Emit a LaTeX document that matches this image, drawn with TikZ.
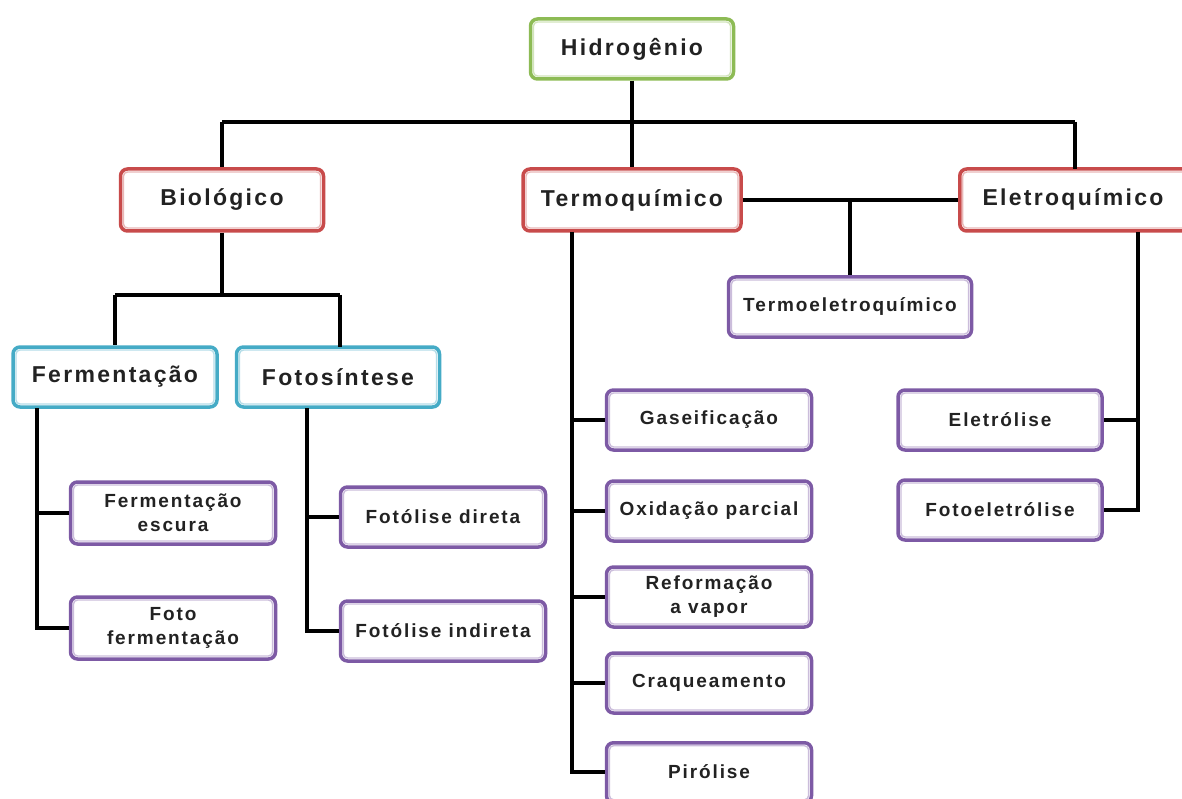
\documentclass[tikz,border=0pt]{standalone}
\usepackage{fontspec}
\setmainfont{Liberation Sans}[LetterSpace=10]
\definecolor{cgreen}{HTML}{8DBB55}
\definecolor{cred}{HTML}{C84B4B}
\definecolor{cblue}{HTML}{45ABC6}
\definecolor{cpurple}{HTML}{7D5AA5}
\definecolor{ctext}{HTML}{222222}
\tikzset{
  cbox/.style={draw=#1, line width=3.5pt, rounded corners=7pt, fill=white,
    inner sep=0pt, align=center, text=ctext, font=\bfseries\fontsize{19}{24}\selectfont,
    path picture={\draw[#1!40, line width=1.4pt, rounded corners=4pt]
      ([shift={(3pt,3pt)}]path picture bounding box.south west) rectangle
      ([shift={(-3pt,-3pt)}]path picture bounding box.north east);}},
  big/.style={font=\bfseries\fontsize{23}{27}\selectfont},
  conn/.style={line width=3.2pt, black}
}
\begin{document}
\begin{tikzpicture}[x=1pt,y=-1pt]
\useasboundingbox (0,0) rectangle (1182,799);
% top
\node[cbox=cgreen, big, minimum width=203pt, minimum height=60pt] (hid) at (632,49) {Hidrogênio};
\node[cbox=cred, big, minimum width=203pt, minimum height=62pt] (bio) at (222,200) {Biológico};
\node[cbox=cred, big, minimum width=218pt, minimum height=62pt] (ter) at (632,200) {Termoquímico};
\node[cbox=cred, big, minimum width=240pt, minimum height=62pt, anchor=west] (ele) at (958,200) {};
\node[font=\bfseries\fontsize{23}{27}\selectfont, text=ctext] (elet) at (1073,199) {Eletroquímico};
\node[cbox=cpurple, minimum width=243pt, minimum height=60pt] (tel) at (850,307) {Termoeletroquímico};
% biological
\node[cbox=cblue, big, minimum width=204pt, minimum height=60pt] (fer) at (115,377) {Fermentação};
\node[cbox=cblue, big, minimum width=203pt, minimum height=60pt] (fot) at (338,377) {Fotosíntese};
\node[cbox=cpurple, minimum width=205pt, minimum height=62pt] (fe) at (173,513) {Fermentação\\escura};
\node[cbox=cpurple, minimum width=205pt, minimum height=62pt] (ff) at (173,628) {Foto\\fermentação};
\node[cbox=cpurple, minimum width=205pt, minimum height=60pt] (fd) at (443,517) {Fotólise direta};
\node[cbox=cpurple, minimum width=205pt, minimum height=60pt] (fi) at (443,631) {Fotólise indireta};
% thermo
\node[cbox=cpurple, minimum width=205pt, minimum height=60pt] (gas) at (709,420) {Gaseificação};
\node[cbox=cpurple, minimum width=205pt, minimum height=60pt] (oxi) at (709,511) {Oxidação parcial};
\node[cbox=cpurple, minimum width=205pt, minimum height=60pt] (ref) at (709,597) {Reformação\\a vapor};
\node[cbox=cpurple, minimum width=205pt, minimum height=60pt] (cra) at (709,683) {Craqueamento};
\node[cbox=cpurple, minimum width=205pt, minimum height=60pt, anchor=north] (pir) at (709,741) {};
\node[font=\bfseries\fontsize{19}{24}\selectfont, text=ctext] (pirt) at (709,772) {Pirólise};
% electro
\node[cbox=cpurple, minimum width=204pt, minimum height=60pt] (etr) at (1000,420) {Eletrólise};
\node[cbox=cpurple, minimum width=204pt, minimum height=60pt] (fel) at (1000,510) {Fotoeletrólise};
% coordinates
\coordinate (h1) at (632,122);
\coordinate (hL) at (222,122);
\coordinate (hR) at (1075,122);
\coordinate (hRb) at (1075,169);
\coordinate (tm) at (850,200);
\coordinate (b1) at (222,295);
\coordinate (bL) at (115,295);
\coordinate (bR) at (340,295);
\coordinate (bRb) at (340,347);
\coordinate (ferx) at (37,408);
\coordinate (fotx) at (307,408);
\coordinate (terx) at (572,232);
\coordinate (elex) at (1138,232);
% connectors
\draw[conn] (hid.south) -- (h1);
\draw[conn] (hL) -- (hR);
\draw[conn] (hL) -- (bio.north);
\draw[conn] (h1) -- (ter.north);
\draw[conn] (hR) -- (hRb);
\draw[conn] (ter.east) -- (ele.west);
\draw[conn] (tm) -- (tel.north);
\draw[conn] (bio.south) -- (b1);
\draw[conn] (bL) -- (bR);
\draw[conn] (bL) -- (fer.north);
\draw[conn] (bR) -- (bRb);
% fermentation
\draw[conn] (ferx) |- (ff.west);
\draw[conn] (ferx |- fe.west) -- (fe.west);
% photosynthesis
\draw[conn] (fotx) |- (fi.west);
\draw[conn] (fotx |- fd.west) -- (fd.west);
% thermo
\draw[conn] (terx) |- (pir.west |- pirt);
\draw[conn] (terx |- gas.west) -- (gas.west);
\draw[conn] (terx |- oxi.west) -- (oxi.west);
\draw[conn] (terx |- ref.west) -- (ref.west);
\draw[conn] (terx |- cra.west) -- (cra.west);
% electro
\draw[conn] (elex) |- (fel.east);
\draw[conn] (elex |- etr.east) -- (etr.east);
\end{tikzpicture}
\end{document}
